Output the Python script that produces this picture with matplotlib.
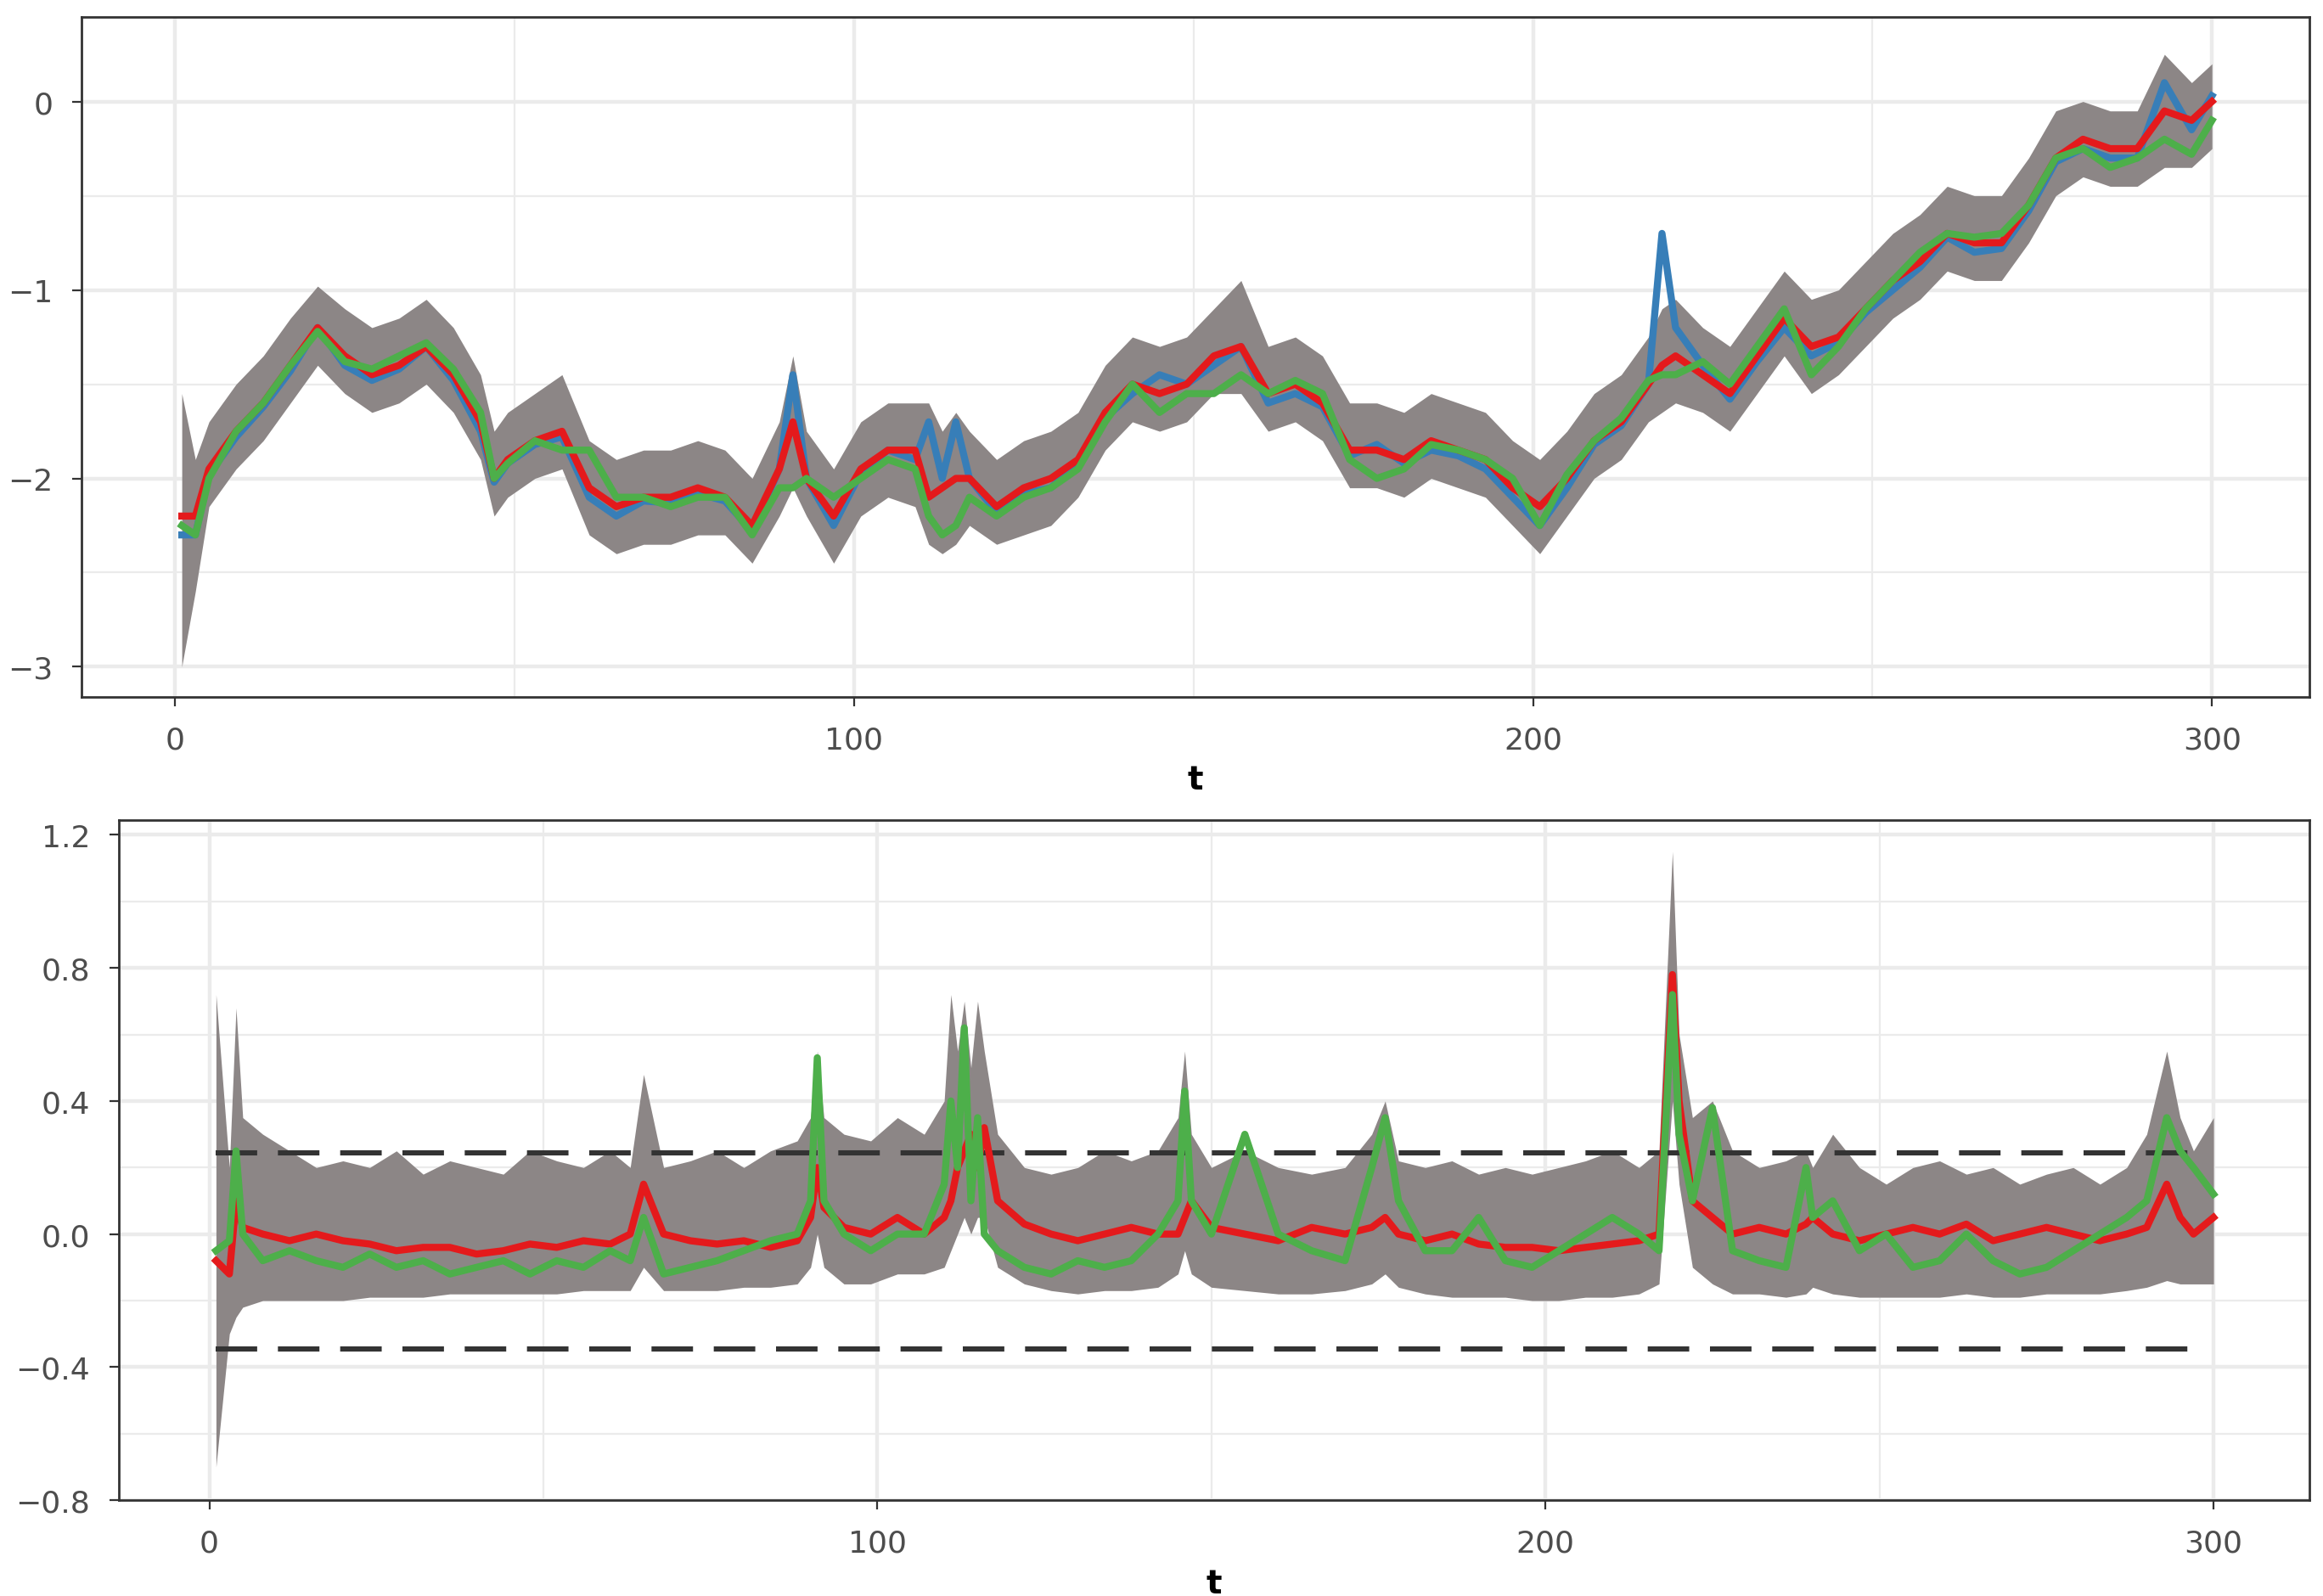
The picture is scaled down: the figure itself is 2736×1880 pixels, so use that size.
import matplotlib.pyplot as plt
import numpy as np

# ---- top panel: level estimates (t every ~4) ----
t_top = [1, 3, 5, 9, 13, 17, 21, 25, 29, 33, 37, 41, 45, 47, 49, 53, 57, 61, 65,
         69, 73, 77, 81, 85, 89, 91, 93, 97, 101, 105, 109, 111, 113, 115, 117,
         121, 125, 129, 133, 137, 141, 145, 149, 153, 157, 161, 165, 169, 173,
         177, 181, 185, 189, 193, 197, 201, 205, 209, 213, 217, 219, 221, 225,
         229, 233, 237, 241, 245, 249, 253, 257, 261, 265, 269, 273, 277, 281,
         285, 289, 293, 297, 300]
red_top = [-2.2, -2.2, -1.95, -1.75, -1.6, -1.4, -1.2, -1.35, -1.45, -1.4, -1.3,
           -1.45, -1.7, -2.0, -1.9, -1.8, -1.75, -2.05, -2.15, -2.1, -2.1, -2.05,
           -2.1, -2.25, -1.95, -1.7, -2.0, -2.2, -1.95, -1.85, -1.85, -2.1, -2.05,
           -2.0, -2.0, -2.15, -2.05, -2.0, -1.9, -1.65, -1.5, -1.55, -1.5, -1.35,
           -1.3, -1.55, -1.5, -1.6, -1.85, -1.85, -1.9, -1.8, -1.85, -1.9, -2.05,
           -2.15, -2.0, -1.8, -1.7, -1.5, -1.4, -1.35, -1.45, -1.55, -1.35, -1.15,
           -1.3, -1.25, -1.1, -0.95, -0.85, -0.7, -0.75, -0.75, -0.55, -0.3, -0.2,
           -0.25, -0.25, -0.05, -0.1, 0.0]
blue_top = [-2.3, -2.3, -1.98, -1.78, -1.62, -1.43, -1.2, -1.4, -1.48, -1.42, -1.3,
            -1.48, -1.75, -2.02, -1.92, -1.82, -1.78, -2.1, -2.2, -2.12, -2.13, -2.08,
            -2.12, -2.28, -1.95, -1.45, -2.0, -2.25, -1.97, -1.85, -1.9, -1.7, -2.0,
            -1.7, -2.0, -2.18, -2.08, -2.05, -1.92, -1.68, -1.55, -1.45, -1.5, -1.4,
            -1.3, -1.6, -1.55, -1.62, -1.88, -1.82, -1.92, -1.85, -1.88, -1.95, -2.1,
            -2.25, -2.05, -1.82, -1.72, -1.5, -0.7, -1.2, -1.4, -1.58, -1.38, -1.2,
            -1.35, -1.28, -1.12, -1.0, -0.88, -0.72, -0.8, -0.78, -0.58, -0.32, -0.25,
            -0.3, -0.3, 0.1, -0.15, 0.03]
green_top = [-2.25, -2.3, -2.0, -1.75, -1.6, -1.4, -1.22, -1.38, -1.42, -1.35, -1.28,
             -1.42, -1.65, -2.0, -1.92, -1.8, -1.85, -1.85, -2.1, -2.1, -2.15, -2.1,
             -2.1, -2.3, -2.05, -2.05, -2.0, -2.1, -2.0, -1.9, -1.95, -2.2, -2.3,
             -2.25, -2.1, -2.2, -2.1, -2.05, -1.95, -1.7, -1.5, -1.65, -1.55, -1.55,
             -1.45, -1.55, -1.48, -1.55, -1.9, -2.0, -1.95, -1.82, -1.85, -1.9, -2.0,
             -2.25, -1.98, -1.8, -1.68, -1.48, -1.45, -1.45, -1.38, -1.5, -1.3, -1.1,
             -1.45, -1.3, -1.1, -0.95, -0.8, -0.7, -0.72, -0.7, -0.55, -0.3, -0.25,
             -0.35, -0.3, -0.2, -0.28, -0.1]
lo_top = [-3.0, -2.6, -2.15, -1.95, -1.8, -1.6, -1.4, -1.55, -1.65, -1.6, -1.5,
          -1.65, -1.9, -2.2, -2.1, -2.0, -1.95, -2.3, -2.4, -2.35, -2.35, -2.3,
          -2.3, -2.45, -2.2, -2.05, -2.2, -2.45, -2.2, -2.1, -2.15, -2.35, -2.4,
          -2.35, -2.25, -2.35, -2.3, -2.25, -2.1, -1.85, -1.7, -1.75, -1.7, -1.55,
          -1.55, -1.75, -1.7, -1.8, -2.05, -2.05, -2.1, -2.0, -2.05, -2.1, -2.25,
          -2.4, -2.2, -2.0, -1.9, -1.7, -1.65, -1.6, -1.65, -1.75, -1.55, -1.35,
          -1.55, -1.45, -1.3, -1.15, -1.05, -0.9, -0.95, -0.95, -0.75, -0.5, -0.4,
          -0.45, -0.45, -0.35, -0.35, -0.25]
hi_top = [-1.55, -1.9, -1.7, -1.5, -1.35, -1.15, -0.98, -1.1, -1.2, -1.15, -1.05,
          -1.2, -1.45, -1.75, -1.65, -1.55, -1.45, -1.8, -1.9, -1.85, -1.85, -1.8,
          -1.85, -2.0, -1.7, -1.35, -1.75, -1.95, -1.7, -1.6, -1.6, -1.6, -1.75,
          -1.65, -1.75, -1.9, -1.8, -1.75, -1.65, -1.4, -1.25, -1.3, -1.25, -1.1,
          -0.95, -1.3, -1.25, -1.35, -1.6, -1.6, -1.65, -1.55, -1.6, -1.65, -1.8,
          -1.9, -1.75, -1.55, -1.45, -1.25, -1.1, -1.05, -1.2, -1.3, -1.1, -0.9,
          -1.05, -1.0, -0.85, -0.7, -0.6, -0.45, -0.5, -0.5, -0.3, -0.05, 0.0,
          -0.05, -0.05, 0.25, 0.1, 0.2]

# ---- bottom panel: increments ----
t_bot = [1, 3, 4, 5, 8, 12, 16, 20, 24, 28, 32, 36, 40, 44, 48, 52, 56, 60, 63,
         65, 68, 72, 76, 80, 84, 88, 90, 91, 92, 95, 99, 103, 107, 110, 111, 112,
         113, 114, 115, 116, 118, 122, 126, 130, 134, 138, 142, 145, 146, 147, 150,
         155, 160, 165, 170, 174, 176, 178, 182, 186, 190, 194, 198, 202, 206, 210,
         214, 217, 219, 220, 222, 225, 228, 232, 236, 239, 240, 243, 247, 251, 255,
         259, 263, 267, 271, 275, 279, 283, 287, 290, 293, 295, 297, 300]
red_bot = [-0.08, -0.12, 0.1, 0.02, 0.0, -0.02, 0.0, -0.02, -0.03, -0.05, -0.04,
           -0.04, -0.06, -0.05, -0.03, -0.04, -0.02, -0.03, 0.0, 0.15, 0.0, -0.02,
           -0.03, -0.02, -0.04, -0.02, 0.05, 0.2, 0.08, 0.02, 0.0, 0.05, 0.0, 0.05,
           0.1, 0.2, 0.25, 0.3, 0.2, 0.32, 0.1, 0.03, 0.0, -0.02, 0.0, 0.02, 0.0,
           0.0, 0.05, 0.1, 0.02, 0.0, -0.02, 0.02, 0.0, 0.02, 0.05, 0.0, -0.02,
           0.0, -0.03, -0.04, -0.04, -0.05, -0.04, -0.03, -0.02, 0.0, 0.78, 0.4,
           0.1, 0.05, 0.0, 0.02, 0.0, 0.03, 0.05, 0.0, -0.02, 0.0, 0.02, 0.0, 0.03,
           -0.02, 0.0, 0.02, 0.0, -0.02, 0.0, 0.02, 0.15, 0.05, 0.0, 0.05]
green_bot = [-0.05, -0.02, 0.25, 0.0, -0.08, -0.05, -0.08, -0.1, -0.06, -0.1, -0.08,
             -0.12, -0.1, -0.08, -0.12, -0.08, -0.1, -0.05, -0.08, 0.05, -0.12,
             -0.1, -0.08, -0.05, -0.02, 0.0, 0.1, 0.53, 0.1, 0.0, -0.05, 0.0, 0.0,
             0.15, 0.4, 0.2, 0.62, 0.1, 0.35, 0.0, -0.05, -0.1, -0.12, -0.08, -0.1,
             -0.08, 0.0, 0.1, 0.43, 0.1, 0.0, 0.3, 0.0, -0.05, -0.08, 0.2, 0.35,
             0.1, -0.05, -0.05, 0.05, -0.08, -0.1, -0.05, 0.0, 0.05, 0.0, -0.05,
             0.72, 0.3, 0.1, 0.38, -0.05, -0.08, -0.1, 0.2, 0.05, 0.1, -0.05, 0.0,
             -0.1, -0.08, 0.0, -0.08, -0.12, -0.1, -0.05, 0.0, 0.05, 0.1, 0.35, 0.25,
             0.2, 0.12]
lo_bot = [-0.7, -0.3, -0.25, -0.22, -0.2, -0.2, -0.2, -0.2, -0.19, -0.19, -0.19,
          -0.18, -0.18, -0.18, -0.18, -0.18, -0.17, -0.17, -0.17, -0.1, -0.17,
          -0.17, -0.17, -0.16, -0.16, -0.15, -0.1, 0.0, -0.1, -0.15, -0.15, -0.12,
          -0.12, -0.1, -0.05, 0.0, 0.05, 0.0, 0.05, 0.05, -0.1, -0.15, -0.17,
          -0.18, -0.17, -0.17, -0.16, -0.12, -0.05, -0.12, -0.16, -0.17, -0.18,
          -0.18, -0.17, -0.15, -0.12, -0.16, -0.18, -0.19, -0.19, -0.19, -0.2,
          -0.2, -0.19, -0.19, -0.18, -0.15, 0.4, 0.15, -0.1, -0.15, -0.18, -0.18,
          -0.19, -0.18, -0.16, -0.18, -0.19, -0.19, -0.19, -0.19, -0.18, -0.19,
          -0.19, -0.18, -0.18, -0.18, -0.17, -0.16, -0.14, -0.15, -0.15, -0.15]
hi_bot = [0.72, 0.2, 0.68, 0.35, 0.3, 0.25, 0.2, 0.22, 0.2, 0.25, 0.18, 0.22,
          0.2, 0.18, 0.25, 0.22, 0.2, 0.25, 0.2, 0.48, 0.2, 0.22, 0.25, 0.2, 0.25,
          0.28, 0.35, 0.55, 0.35, 0.3, 0.28, 0.35, 0.3, 0.4, 0.72, 0.55, 0.7, 0.5,
          0.7, 0.55, 0.3, 0.2, 0.18, 0.2, 0.25, 0.22, 0.25, 0.35, 0.55, 0.3, 0.2,
          0.25, 0.2, 0.18, 0.2, 0.3, 0.4, 0.22, 0.2, 0.22, 0.18, 0.2, 0.18, 0.2,
          0.22, 0.25, 0.2, 0.25, 1.15, 0.6, 0.35, 0.4, 0.25, 0.2, 0.22, 0.25, 0.2,
          0.3, 0.2, 0.15, 0.2, 0.22, 0.18, 0.2, 0.15, 0.18, 0.2, 0.15, 0.2, 0.3,
          0.55, 0.35, 0.25, 0.35]
ref_levels = [0.245, -0.345]
ref_span = [1, 297]

BLUE, RED, GREEN = "#377EB8", "#E41A1C", "#4DAF4A"
BAND = "#8C8686"


def style(ax, xlim, ylim, yticks, yminor, fmt):
    ax.set_xlim(xlim)
    ax.set_ylim(ylim)
    ax.set_xticks([0, 100, 200, 300])
    ax.set_xticks([50, 150, 250], minor=True)
    ax.set_yticks(yticks)
    ax.set_yticks(yminor, minor=True)
    ax.set_yticklabels([fmt(v).replace("-", "\u2212") for v in yticks])
    ax.grid(which="major", color="#EBEBEB", lw=1.6)
    ax.grid(which="minor", color="#EBEBEB", lw=0.8)
    ax.set_axisbelow(True)
    ax.tick_params(which="both", length=0, labelsize=13, colors="#4D4D4D", pad=8)
    ax.tick_params(which="major", length=4, color="#333333")
    for s in ax.spines.values():
        s.set_color("#333333")
        s.set_linewidth(1.0)
    ax.set_xlabel("t", fontsize=14, fontweight="bold", labelpad=4)


fig = plt.figure(figsize=(13.68, 9.405), dpi=200)
ax1 = fig.add_axes([0.035, 0.563, 0.959, 0.426])
ax2 = fig.add_axes([0.051, 0.060, 0.943, 0.426])

ax1.fill_between(t_top, lo_top, hi_top, color=BAND, lw=0)
ax1.plot(t_top, blue_top, color=BLUE, lw=3)
ax1.plot(t_top, red_top, color=RED, lw=3)
ax1.plot(t_top, green_top, color=GREEN, lw=3)
style(ax1, (-13.8, 314.3), (-3.16, 0.45), [-3, -2, -1, 0],
      [-2.5, -1.5, -0.5], lambda v: f"{v:.0f}")

ax2.fill_between(t_bot, lo_bot, hi_bot, color=BAND, lw=0)
for lv in ref_levels:
    ax2.plot(ref_span, [lv, lv], color="#333333", lw=2.2, ls=(0, (8, 4)))
ax2.plot(t_bot, red_bot, color=RED, lw=3)
ax2.plot(t_bot, green_bot, color=GREEN, lw=3)
style(ax2, (-13.6, 314.3), (-0.8, 1.245), [-0.8, -0.4, 0.0, 0.4, 0.8, 1.2],
      [-0.6, -0.2, 0.2, 0.6, 1.0], lambda v: f"{v:.1f}")

fig.savefig("out.png", dpi=200)
